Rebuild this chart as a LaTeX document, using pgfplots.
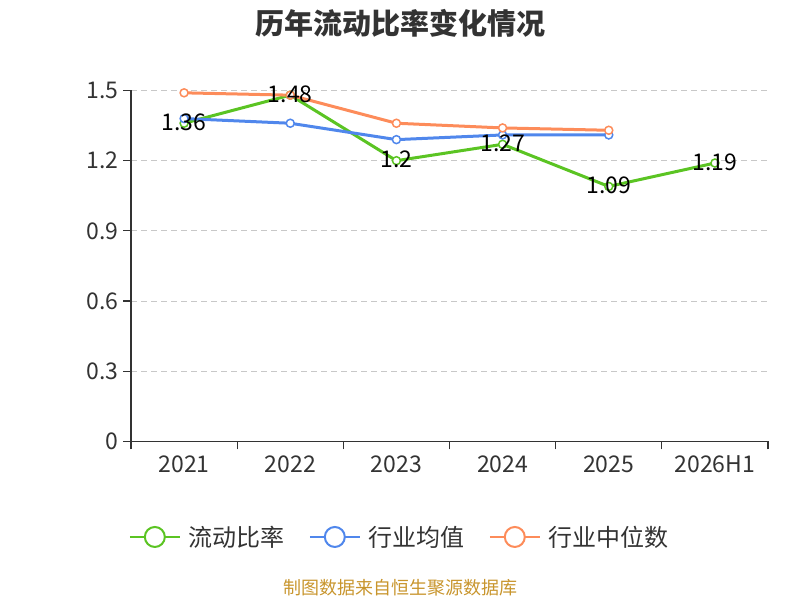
\documentclass[border=0pt]{standalone}
\usepackage{fontspec}
\setmainfont{Noto Sans CJK SC}
\usepackage{pgfplots}
\pgfplotsset{compat=1.18}
\definecolor{cgreen}{HTML}{5BC423}
\definecolor{cblue}{HTML}{5087EC}
\definecolor{corange}{HTML}{FD8C5A}
\definecolor{ctext}{HTML}{333333}
\definecolor{cgrid}{HTML}{C8C8C8}
\definecolor{csrc}{HTML}{C8952D}
\begin{document}
\begin{tikzpicture}[x=1bp,y=1bp]
\path[use as bounding box] (0,0) rectangle (800,600);
\begin{axis}[
  at={(131bp,158.5bp)}, anchor=south west,
  scale only axis, width=637bp, height=351bp,
  xmin=-0.5, xmax=5.5, ymin=0, ymax=1.5,
  axis lines=left,
  axis line style={-, color=ctext, line width=1.2bp},
  xtick={0,1,2,3,4,5},
  xticklabels={2021,2022,2023,2024,2025,2026H1},
  minor xtick={-0.5,0.5,1.5,2.5,3.5,4.5,5.5},
  ytick={0,0.3,0.6,0.9,1.2,1.5},
  tick align=outside,
  major tick length=8bp,
  minor tick length=8bp,
  x tick style={draw=none},
  minor x tick style={draw=ctext, line width=1.2bp},
  y tick style={draw=ctext, line width=1.2bp},
  ymajorgrids,
  major grid style={cgrid, dash pattern=on 6bp off 4bp, line width=1bp},
  tick label style={font=\fontsize{23bp}{27bp}\selectfont, text=ctext},
  /pgf/number format/assume math mode=true,
  xticklabel style={yshift=-3bp},
  yticklabel style={xshift=-1bp},
  legend style={at={(0.422,-0.272)}, anchor=center, draw=none, fill=none,
    font=\fontsize{24bp}{28bp}\selectfont, text=ctext,
    /tikz/every odd column/.append style={column sep=6bp},
    /tikz/every even column/.append style={column sep=22bp},
    legend cell align=left},
  legend columns=3,
  legend image code/.code={
    \draw[#1, mark=none, line width=2bp] (0bp,0bp) -- (50bp,0bp);
    \draw[#1, mark=none, line width=2bp, fill=white] (25bp,0bp) circle (10bp);
  },
  every axis plot/.append style={line width=3bp, mark=*, mark size=4bp,
    mark options={fill=white, line width=1.5bp}},
  clip=false,
]
\addplot[color=cgreen] coordinates {(0,1.36) (1,1.48) (2,1.2) (3,1.27) (4,1.09) (5,1.19)};
\addlegendentry{流动比率}
\addplot[color=cblue] coordinates {(0,1.38) (1,1.36) (2,1.29) (3,1.31) (4,1.31)};
\addlegendentry{行业均值}
\addplot[color=corange] coordinates {(0,1.49) (1,1.48) (2,1.36) (3,1.34) (4,1.33)};
\addlegendentry{行业中位数}
\addplot[draw=none, mark=none, forget plot,
  nodes near coords={\pgfmathprintnumber{\pgfplotspointmeta}},
  point meta=explicit,
  every node near coord/.append style={anchor=center, yshift=1bp, text=black,
    font=\fontsize{23bp}{27bp}\selectfont}]
  coordinates {(0,1.36) [1.36] (1,1.48) [1.48] (2,1.2) [1.2] (3,1.27) [1.27] (4,1.09) [1.09] (5,1.19) [1.19]};
\end{axis}
\node[font=\fontsize{29bp}{33bp}\selectfont\bfseries, text=ctext] at (400,577) {历年流动比率变化情况};
\node[font=\fontsize{18bp}{22bp}\selectfont, text=csrc] at (400,12) {制图数据来自恒生聚源数据库};
\end{tikzpicture}
\end{document}
